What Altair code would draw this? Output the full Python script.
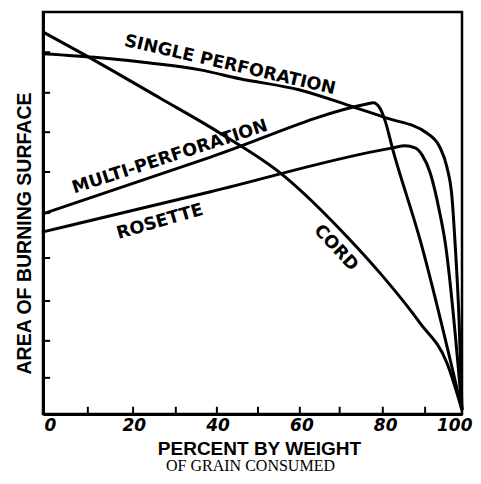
import altair as alt
import pandas as pd

# ---- data (x: percent consumed, y: relative area, 0-10) ----
single_x = [0, 13.6, 25.5, 37.5, 47.0, 61.3, 74.0, 82.1, 91.6, 94.7, 96.4, 97.6, 98.3, 99.3, 100]
single_y = [8.96, 8.86, 8.73, 8.56, 8.34, 8.06, 7.64, 7.36, 6.99, 6.64, 6.14, 5.40, 4.33, 2.34, 0.1]

multi_x = [0, 40, 77.3, 78.8, 80.4, 81.6, 83.5, 90.0, 100]
multi_y = [4.98, 6.39, 7.71, 7.74, 7.61, 7.31, 6.57, 4.33, 0.1]

rosette_x = [0, 40, 83.5, 86.4, 88.8, 90.5, 92.4, 94.7, 95.9, 100]
rosette_y = [4.53, 5.53, 6.62, 6.67, 6.62, 6.44, 6.0, 5.0, 4.33, 0.1]

cord_x = [0, 12.9, 27.9, 42.2, 56.6, 73.3, 80.4, 90.0, 96.4, 100]
cord_y = [9.50, 8.76, 7.86, 6.99, 6.0, 4.33, 3.51, 2.26, 1.27, 0.1]

label_text = ["SINGLE PERFORATION", "MULTI-PERFORATION", "ROSETTE", "CORD"]
label_x = [44.6, 30.3, 27.9, 69.9]
label_y = [8.68, 6.39, 4.78, 4.13]
label_angle = [13, 342, 344, 47]

x_tick_vals = [10.7, 21.5, 31.7, 41.5, 51.3, 61.3, 70.8, 81.1, 91.2]
y_tick_vals = [0.9, 1.82, 2.81, 3.88, 5.0, 6.02, 7.01, 7.99, 9.0]
x_labels = [0, 20, 40, 60, 80, 100]

# ---- tables ----
rows = []
for name, xs, ys in [("single", single_x, single_y), ("multi", multi_x, multi_y),
                     ("rosette", rosette_x, rosette_y), ("cord", cord_x, cord_y)]:
    for i, (a, b) in enumerate(zip(xs, ys)):
        rows.append({"series": name, "x": a, "y": b, "order": i})
curves = pd.DataFrame(rows)

labels = pd.DataFrame({"text": label_text, "x": label_x, "y": label_y, "angle": label_angle})
xt = pd.DataFrame({"x": x_tick_vals, "y": 0.0, "y2": 0.18})
yt = pd.DataFrame({"y": y_tick_vals, "x": 0.0, "x2": 1.7})

xscale = alt.Scale(domain=[0, 100], nice=False, zero=False)
yscale = alt.Scale(domain=[0, 10], nice=False, zero=False)

xaxis = alt.Axis(values=x_labels, ticks=False, tickSize=0, grid=False, domain=True,
                 domainColor="black", domainWidth=3,
                 labelFont="DejaVu Sans", labelFontSize=17, labelFontWeight="bold",
                 labelFontStyle="italic", labelColor="black", labelPadding=3,
                 labelAlign={"expr": "datum.value == 100 ? 'right' : 'center'"},
                 labelOffset={"expr": "datum.value == 100 ? 10 : 7"},
                 labelFlush=False,
                 title="PERCENT BY WEIGHT", titleFont="Liberation Sans", titleFontSize=19,
                 titleFontWeight="bold", titleColor="black", titleX=216, titleY=34,
                 titleBaseline="middle", titleAlign="center", titleAnchor="middle")
yaxis = alt.Axis(labels=False, ticks=False, tickSize=0, grid=False, domain=True,
                 domainColor="black", domainWidth=3,
                 title="AREA OF BURNING SURFACE", titleFont="Liberation Sans",
                 titleFontSize=19.5, titleFontWeight="bold", titleColor="black",
                 titleAngle=270, titleX=-19, titleY=221, titleBaseline="middle",
                 titleAlign="center")

lines = alt.Chart(curves).mark_line(color="black", strokeWidth=3, interpolate="monotone").encode(
    x=alt.X("x:Q", scale=xscale, axis=xaxis),
    y=alt.Y("y:Q", scale=yscale, axis=yaxis),
    detail="series:N",
    order="order:Q",
)

text = alt.Chart(labels).mark_text(font="DejaVu Sans", fontSize=17.5, fontWeight="bold",
                                   color="black", align="center", baseline="middle").encode(
    x=alt.X("x:Q", scale=xscale),
    y=alt.Y("y:Q", scale=yscale),
    text="text:N",
    angle=alt.Angle("angle:Q", scale=None),
)

xticks = alt.Chart(xt).mark_rule(color="black", strokeWidth=2).encode(
    x=alt.X("x:Q", scale=xscale), y=alt.Y("y:Q", scale=yscale), y2="y2:Q")
yticks = alt.Chart(yt).mark_rule(color="black", strokeWidth=2).encode(
    y=alt.Y("y:Q", scale=yscale), x=alt.X("x:Q", scale=xscale), x2="x2:Q")

chart = alt.layer(lines, text, xticks, yticks).properties(
    width=419, height=402,
    background="white",
    autosize=alt.AutoSizeParams(type="none"),
    padding={"left": 35, "top": 4, "right": 11, "bottom": 59},
    title=alt.TitleParams(text="OF GRAIN CONSUMED", orient="bottom", font="Liberation Serif",
                          fontSize=16, fontWeight="normal", color="black", anchor="middle",
                          offset=0, dx=-2),
).configure_view(stroke="black", strokeWidth=2.5)

chart.save("out.html", embed_options={"renderer": "svg", "actions": False})
